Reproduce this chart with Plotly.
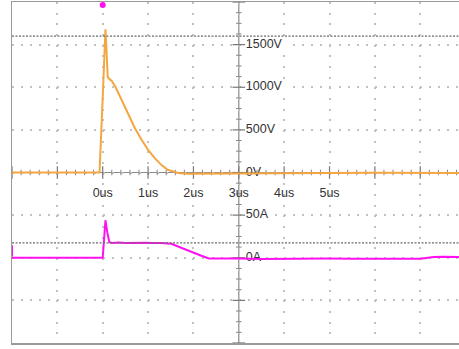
import numpy as np
import plotly.graph_objects as go

# ---------------- data ----------------
time_us_v = [-2.0, -0.07, 0.0, 0.06, 0.085, 0.11, 0.15, 0.2, 0.28, 0.42, 0.565, 0.71,
             0.857, 1.0, 1.146, 1.29, 1.43, 1.58, 1.7, 1.9, 2.5, 3.0, 4.0, 5.0, 6.0, 7.0, 7.86]
voltage_v = [0, 0, 880, 1680, 1420, 1120, 1095, 1075, 1005, 851, 696, 520,
             383, 266, 169, 90, 32, 5, -10, -15, -12, -8, -5, -5, -4, -5, -5]

time_us_i = [-2.0, 0.0, 0.03, 0.06, 0.1, 0.146, 0.2, 0.35, 0.5, 0.65, 0.8, 0.95, 1.1, 1.29,
             1.51, 1.73, 1.94, 2.16, 2.34, 2.6, 3.0, 3.5, 4.0, 4.5, 5.0, 5.5, 6.0, 6.5, 7.0,
             7.3, 7.5, 7.86]
current_a = [0, 0, 22, 44, 30, 18.2, 17.3, 17.8, 17.2, 17.6, 17.4, 17.7, 17.3, 17.4,
             16.4, 11.7, 6.5, 2.7, -0.8, -1.2, -1.0, -1.4, -1.1, -1.3, -1.0, -1.3, -1.1, -1.4, -1.2,
             0.8, 1.2, 0.9]

voltage_cursor = 1600      # dashed cursor line, V
current_cursor = 17.4      # dashed cursor line, A
trigger_time = 0.0         # trigger marker, us
current_level_marker = 8   # channel marker on left edge, A

time_tick_vals = [0, 1, 2, 3, 4, 5]
time_tick_text = ["0us", "1us", "2us", "3us", "4us", "5us"]
volt_tick_vals = [0, 500, 1000, 1500]
volt_tick_text = ["0V", "500V", "1000V", "1500V"]
amp_tick_vals = [0, 50]
amp_tick_text = ["0A", "50A"]

# ---------------- geometry / style ----------------
W, H = 459, 349
ML, MR, MT, MB = 12, 0, 2, 6
PW, PH = W - ML - MR, H - MT - MB
US_PX = 45.36
X0 = -2.0
X1 = X0 + PW / US_PX
V_RANGE = [-2000, 2000]
I_RANGE = [-100, 300]
DIV_PX_Y = PH / 8
V_PER_PX = 500 / DIV_PX_Y
CENTER_T = 3.0

ORANGE = "#F4A640"
MAGENTA = "#FF10F0"
GRID = "#c2c2c2"
FRAME = "#9a9a9a"
TXT = "#333333"
FONT = "Liberation Sans, Arial, sans-serif"
FS = 12.5


def amps_to_volt_axis(a):
    frac = (a - I_RANGE[0]) / (I_RANGE[1] - I_RANGE[0])
    return V_RANGE[0] + frac * (V_RANGE[1] - V_RANGE[0])


fig = go.Figure()

# center-axis tick marks (major + minor)
maj_t = list(np.arange(-2, 8, 1.0))
min_t = [v for v in np.arange(-2, 8, 0.2) if abs(v - round(v)) > 1e-6]
maj_v = list(np.arange(-2000, 2001, 500))
min_v = [v for v in np.arange(-2000, 2001, 125) if v % 500 != 0]
fig.add_trace(go.Scatter(x=maj_t, y=[0] * len(maj_t), mode="markers",
                         marker=dict(symbol="line-ns", size=9, line=dict(color="#777", width=1.2)),
                         hoverinfo="skip"))
fig.add_trace(go.Scatter(x=min_t, y=[0] * len(min_t), mode="markers",
                         marker=dict(symbol="line-ns", size=4, line=dict(color="#888", width=1)),
                         hoverinfo="skip"))
fig.add_trace(go.Scatter(x=[CENTER_T] * len(maj_v), y=maj_v, mode="markers",
                         marker=dict(symbol="line-ew", size=9, line=dict(color="#777", width=1.2)),
                         hoverinfo="skip"))
fig.add_trace(go.Scatter(x=[CENTER_T] * len(min_v), y=min_v, mode="markers",
                         marker=dict(symbol="line-ew", size=4, line=dict(color="#888", width=1)),
                         hoverinfo="skip"))

# labels (text traces under the data)
lbl_font = dict(family=FONT, size=FS, color=TXT)
time_label_y = -21 * V_PER_PX  # ~21 px below the 0V line
fig.add_trace(go.Scatter(x=time_tick_vals, y=[time_label_y] * len(time_tick_vals),
                         mode="text", text=time_tick_text, textposition="middle center",
                         textfont=lbl_font, hoverinfo="skip"))
lbl_x = CENTER_T + 7 / US_PX
fig.add_trace(go.Scatter(x=[lbl_x] * len(volt_tick_vals), y=volt_tick_vals,
                         mode="text", text=volt_tick_text, textposition="middle right",
                         textfont=lbl_font, hoverinfo="skip"))

# voltage trace
fig.add_trace(go.Scatter(x=time_us_v, y=voltage_v, mode="lines",
                         line=dict(color=ORANGE, width=2), hoverinfo="skip"))

# trigger marker
fig.add_trace(go.Scatter(x=[trigger_time], y=[V_RANGE[1] - 35], mode="markers",
                         marker=dict(symbol="circle", size=6, color=MAGENTA),
                         cliponaxis=False, hoverinfo="skip"))

# current labels + trace on y2
fig.add_trace(go.Scatter(x=[lbl_x] * len(amp_tick_vals), y=amp_tick_vals, yaxis="y2",
                         mode="text", text=amp_tick_text, textposition="middle right",
                         textfont=lbl_font, hoverinfo="skip"))
fig.add_trace(go.Scatter(x=time_us_i, y=current_a, yaxis="y2", mode="lines",
                         line=dict(color=MAGENTA, width=2), hoverinfo="skip"))
fig.add_trace(go.Scatter(x=[X0], y=[current_level_marker], yaxis="y2", mode="markers",
                         marker=dict(symbol="line-ns", size=8, line=dict(color=MAGENTA, width=2)),
                         cliponaxis=False, hoverinfo="skip"))

# center cross lines, cursors
shapes = [
    dict(type="line", xref="x", yref="paper", x0=CENTER_T, x1=CENTER_T, y0=0, y1=1,
         line=dict(color="#8a8a8a", width=1.2), layer="below"),
    dict(type="line", xref="paper", yref="y", x0=0, x1=1, y0=0, y1=0,
         line=dict(color="#8a8a8a", width=1.2), layer="below"),
    dict(type="line", xref="paper", yref="y", x0=0, x1=1, y0=voltage_cursor, y1=voltage_cursor,
         line=dict(color="#6a6a6a", width=1.3, dash="2px,1.5px")),
    dict(type="line", xref="paper", yref="y", x0=0, x1=1,
         y0=amps_to_volt_axis(current_cursor), y1=amps_to_volt_axis(current_cursor),
         line=dict(color="#6a6a6a", width=1.3, dash="2px,1.5px")),
]


# white backgrounds behind value labels (above the grid, below the traces)
def label_box(val_on_v_axis, text):
    w_px = len(text) * 7.2 + 6
    return dict(type="rect", xref="x", yref="y",
                x0=lbl_x - 1 / US_PX, x1=lbl_x + w_px / US_PX,
                y0=val_on_v_axis - 7 * V_PER_PX, y1=val_on_v_axis + 7 * V_PER_PX,
                fillcolor="white", line=dict(width=0), layer="between")


for v, t in zip(volt_tick_vals, volt_tick_text):
    if v != 0:
        shapes.append(label_box(v, t))
for a, t in zip(amp_tick_vals, amp_tick_text):
    shapes.append(label_box(amps_to_volt_axis(a), t))

fig.update_layout(
    width=W, height=H,
    margin=dict(l=ML, r=MR, t=MT, b=MB, pad=0),
    paper_bgcolor="white", plot_bgcolor="white",
    showlegend=False, hovermode=False,
    shapes=shapes,
    xaxis=dict(range=[X0, X1], tick0=-2, dtick=1, showticklabels=False, ticks="",
               showgrid=True, gridcolor=GRID, gridwidth=2,
               griddash="2px,%.2fpx" % (DIV_PX_Y / 4 - 2),
               zeroline=False, showline=True, linecolor=FRAME, linewidth=1.5, mirror=True),
    yaxis=dict(range=V_RANGE, tick0=0, dtick=500, showticklabels=False, ticks="",
               showgrid=True, gridcolor=GRID, gridwidth=2,
               griddash="2px,%.2fpx" % (US_PX / 5 - 2),
               zeroline=False, showline=True, linecolor=FRAME, linewidth=1.5, mirror=False),
    yaxis2=dict(range=I_RANGE, overlaying="y", showticklabels=False, ticks="",
                showgrid=False, zeroline=False, showline=False),
)

fig.write_html("out.html", config={"displayModeBar": False, "staticPlot": True},
               post_script="document.body.style.margin='0';document.body.style.overflow='hidden';")
